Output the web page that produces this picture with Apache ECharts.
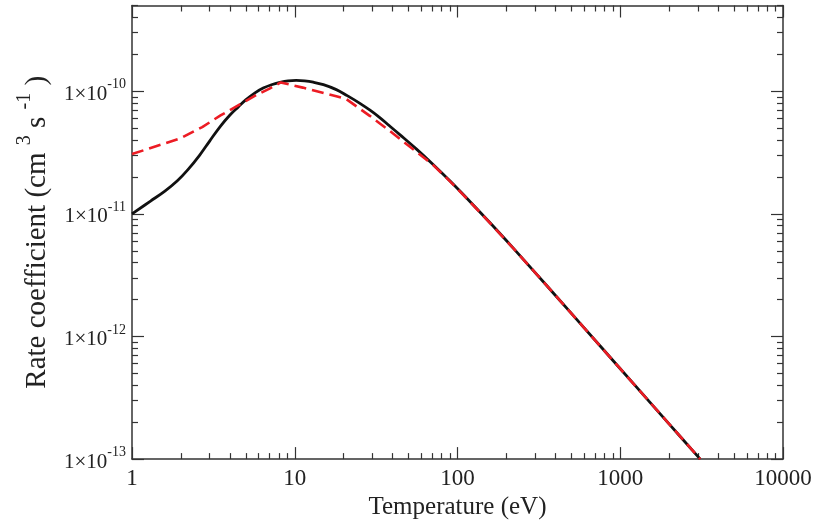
<!DOCTYPE html>
<html>
<head>
<meta charset="utf-8">
<script src="https://cdn.jsdelivr.net/npm/echarts@6/dist/echarts.min.js"></script>
<style>
html,body{margin:0;padding:0;background:#fff;}
#chart{width:822px;height:525px;}
</style>
</head>
<body>
<div id="chart"></div>
<script>
// Temperature (eV) and rate coefficient (cm^3 s^-1)
const blackT = [1, 1.3, 1.6, 1.9, 2.2, 2.6, 3.0, 3.5, 4.0, 4.5, 5.0, 5.7, 6.4, 7.2, 8.1, 9.1, 10.2, 11.5, 13, 15, 18, 21, 25, 29, 33, 38, 44, 56, 70, 90, 120, 160, 220, 300, 400, 600, 1000, 1500, 2000, 3100];
const blackK = [1.0e-11, 1.27e-11, 1.54e-11, 1.86e-11, 2.28e-11, 3.0e-11, 3.92e-11, 5.2e-11, 6.4e-11, 7.45e-11, 8.5e-11, 9.7e-11, 1.06e-10, 1.13e-10, 1.18e-10, 1.215e-10, 1.225e-10, 1.215e-10, 1.185e-10, 1.13e-10, 1.03e-10, 9.2e-11, 8.0e-11, 7.0e-11, 6.15e-11, 5.25e-11, 4.45e-11, 3.37e-11, 2.56e-11, 1.85e-11, 1.25e-11, 8.33e-12, 5.25e-12, 3.32e-12, 2.16e-12, 1.175e-12, 5.46e-13, 2.97e-13, 1.93e-13, 1.0e-13];

const redT = [1, 2, 2.7, 3.5, 4.6, 5.8, 7.0, 8.2, 11.2, 18, 20.8, 28.9, 38.4, 53.4, 70, 90, 120, 160, 220, 300, 400, 600, 1000, 1500, 2000, 3100];
const redK = [3.07e-11, 4.15e-11, 5.1e-11, 6.35e-11, 7.8e-11, 9.3e-11, 1.05e-10, 1.18e-10, 1.07e-10, 9.1e-11, 8.6e-11, 6.3e-11, 4.74e-11, 3.36e-11, 2.54e-11, 1.84e-11, 1.245e-11, 8.3e-12, 5.25e-12, 3.32e-12, 2.16e-12, 1.175e-12, 5.46e-13, 2.97e-13, 1.93e-13, 1.0e-13];

const xMajor = [1, 10, 100, 1000, 10000];
const yMajor = [1e-13, 1e-12, 1e-11, 1e-10];
const xRange = [1, 10000];
const yRange = [1e-13, 5e-10];

const xMinor = [];
for (let d = 1; d < 10000; d *= 10) for (let m = 2; m <= 9; m++) xMinor.push(m * d);
const yMinor = [];
for (let e = -13; e <= -10; e++) for (let m = 2; m <= 9; m++) { const v = m * Math.pow(10, e); if (v <= yRange[1] * 1.0001) yMinor.push(v); }

const FONT = 'Liberation Serif';
const lineCol = '#333';

function xAxisDef(pos, minor) {
  return {
    type: 'log', logBase: 10, min: xRange[0], max: xRange[1], position: pos,
    axisLine: { show: !minor, lineStyle: { color: lineCol, width: 1.5 } },
    axisTick: { show: true, inside: true, length: minor ? 6 : 12, lineStyle: { color: lineCol, width: 1.2 }, customValues: minor ? xMinor : xMajor },
    axisLabel: { show: pos === 'bottom' && !minor, customValues: xMajor, margin: 8, color: '#222', fontFamily: FONT, fontSize: 23,
      formatter: v => String(Math.round(v)) },
    splitLine: { show: false }, minorTick: { show: false },
    name: pos === 'bottom' && !minor ? 'Temperature (eV)' : '',
    nameLocation: 'middle', nameGap: 27,
    nameTextStyle: { color: '#222', fontFamily: FONT, fontSize: 25 }
  };
}
function yAxisDef(pos, minor) {
  return {
    type: 'log', logBase: 10, min: yRange[0], max: yRange[1], position: pos,
    axisLine: { show: !minor, lineStyle: { color: lineCol, width: 1.5 } },
    axisTick: { show: true, inside: true, length: minor ? 6 : 12, lineStyle: { color: lineCol, width: 1.2 }, customValues: minor ? yMinor : yMajor },
    axisLabel: { show: pos === 'left' && !minor, customValues: yMajor, margin: 6,
      formatter: v => '{b|1×10}{s|' + Math.round(Math.log10(v)) + '}',
      rich: {
        b: { fontFamily: FONT, fontSize: 21, color: '#222', lineHeight: 27, verticalAlign: 'bottom' },
        s: { fontFamily: FONT, fontSize: 14, color: '#222', lineHeight: 15, verticalAlign: 'top' }
      } },
    splitLine: { show: false }, minorTick: { show: false },
    name: pos === 'left' && !minor ? '{t|Rate coefficient (cm }{s|3}{t| s }{s|-1}{t| )}' : '',
    nameLocation: 'middle', nameGap: 80, nameRotate: 90,
    nameTextStyle: {
      rich: {
        t: { fontFamily: FONT, fontSize: 29, color: '#222', lineHeight: 37, verticalAlign: 'bottom' },
        s: { fontFamily: FONT, fontSize: 20, color: '#222', lineHeight: 21, verticalAlign: 'top' }
      }
    }
  };
}

const chart = echarts.init(document.getElementById('chart'), null, { renderer: 'canvas' });
chart.setOption({
  backgroundColor: '#fff',
  animation: false,
  grid: { left: 132, right: 39, top: 5.5, bottom: 63, containLabel: false },
  xAxis: [xAxisDef('bottom', false), xAxisDef('bottom', true), xAxisDef('top', false), xAxisDef('top', true)],
  yAxis: [yAxisDef('left', false), yAxisDef('left', true), yAxisDef('right', false), yAxisDef('right', true)],
  series: [
    { type: 'line', xAxisIndex: 0, yAxisIndex: 0, data: blackT.map((t, i) => [t, blackK[i]]),
      showSymbol: false, smooth: 0.4, lineStyle: { color: '#111', width: 2.8 }, z: 2 },
    { type: 'line', xAxisIndex: 0, yAxisIndex: 0, data: redT.map((t, i) => [t, redK[i]]),
      showSymbol: false, smooth: false, lineStyle: { color: '#ec1c24', width: 2.6, type: [12, 6] }, z: 3 }
  ]
});
</script>
</body>
</html>
